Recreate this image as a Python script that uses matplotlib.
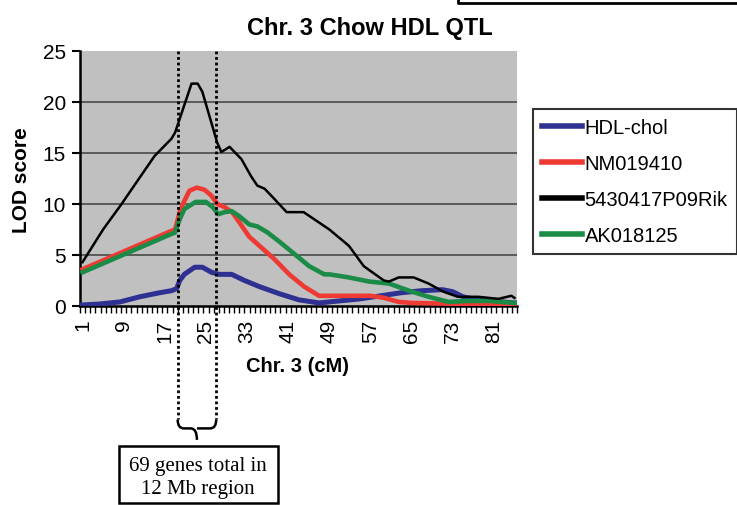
import matplotlib.pyplot as plt
from matplotlib.path import Path
from matplotlib.patches import PathPatch, Rectangle
import matplotlib.transforms as mtransforms

# values (cM position, LOD score)
cm_hdl = [1, 4.4, 8.3, 12.1, 16, 18.3, 19.3, 19.9, 20.8, 22.8, 24.3, 26.1, 27.6, 30, 32.5,
          35.4, 39.3, 43.1, 47, 51, 55, 59, 63, 67, 71, 73, 75, 79, 82.6, 85]
lod_hdl = [0.1, 0.2, 0.4, 0.9, 1.3, 1.5, 1.7, 2.5, 3.1, 3.8, 3.8, 3.3, 3.1, 3.1, 2.5,
           1.9, 1.2, 0.6, 0.3, 0.5, 0.7, 1.0, 1.3, 1.5, 1.6, 1.4, 0.9, 0.5, 0.4, 0.3]

cm_nm = [1, 18, 19, 19.9, 20.8, 21.8, 23.2, 24.7, 26.1, 27.2, 28.6, 30.1, 31.5, 33.4,
         35.4, 38.3, 41.2, 44.1, 47, 49, 57, 59.6, 62.5, 65, 75, 85]
lod_nm = [3.6, 7.3, 7.5, 9.2, 10.3, 11.3, 11.6, 11.4, 10.8, 10.0, 9.7, 9.2, 8.2, 6.8,
          5.9, 4.6, 3.1, 1.9, 1.0, 1.0, 1.0, 0.8, 0.4, 0.3, 0.2, 0.2]

cm_rik = [1, 5, 8.6, 12, 15, 18.3, 19, 22.2, 23.4, 24.3, 27.2, 28, 29.6, 31.9, 33.8, 35,
          36.4, 38.3, 40.7, 44, 49, 52.8, 55.7, 59.6, 60.6, 62.5, 65.4, 68.3, 71.2, 74,
          78, 81.9, 84.4, 85]
lod_rik = [4.3, 7.5, 10.0, 12.5, 14.7, 16.4, 17.0, 21.8, 21.8, 21.0, 16.0, 15.1, 15.6,
           14.4, 12.7, 11.8, 11.5, 10.5, 9.2, 9.2, 7.5, 5.9, 3.9, 2.5, 2.4, 2.8, 2.8,
           2.2, 1.4, 0.9, 0.9, 0.7, 1.0, 0.8]

cm_ak = [1, 18, 19, 19.9, 20.8, 23, 25, 26.3, 27.4, 28.6, 30, 31.5, 33.4, 35, 37, 39.3,
         42.2, 45.1, 48, 49, 52.8, 56.7, 60.6, 64.5, 68.3, 72.2, 76, 80, 85]
lod_ak = [3.3, 7.0, 7.2, 8.5, 9.5, 10.2, 10.2, 9.7, 9.0, 9.2, 9.3, 8.8, 8.0, 7.8, 7.2,
          6.3, 5.1, 3.9, 3.1, 3.1, 2.8, 2.4, 2.2, 1.5, 0.9, 0.4, 0.5, 0.5, 0.3]

tick_labels = [1, 9, 17, 25, 33, 41, 49, 57, 65, 73, 81]
n_markers = 85
qtl_region = [19.5, 27]

plt.rcParams['font.family'] = ['Liberation Sans', 'DejaVu Sans']

fig = plt.figure(figsize=(7.37, 5.06), dpi=100)
ax = fig.add_axes([0.1085, 0.3933, 0.593, 0.504])
ax.set_facecolor("#c0c0c0")

for y in [5, 10, 15, 20]:
    ax.axhline(y, color="#4a4a4a", lw=1.2, zorder=1)

ax.plot(cm_hdl, lod_hdl, color="#2e3192", lw=3.6, label="HDL-chol", zorder=3)
ax.plot(cm_nm, lod_nm, color="#ee3a33", lw=3.3, label="NM019410", zorder=3)
ax.plot(cm_rik, lod_rik, color="black", lw=1.8, label="5430417P09Rik", zorder=4)
ax.plot(cm_ak, lod_ak, color="#1b8c48", lw=3.3, label="AK018125", zorder=3)

ax.set_xlim(0.5, n_markers + 0.5)
ax.set_ylim(0, 25)
ax.set_yticks([0, 5, 10, 15, 20, 25])
ax.set_xticks(tick_labels)
ax.set_xticklabels([str(t) for t in tick_labels], rotation=90)
ax.set_xticks([i + 0.5 for i in range(0, n_markers + 1)], minor=True)
ax.tick_params(axis="x", which="major", length=0, labelsize=15, pad=9)
ax.tick_params(axis="x", which="minor", length=5, width=1, direction="out")
ax.tick_params(axis="y", length=6, width=1.5, labelsize=15, pad=4)
for s in ["top", "right"]:
    ax.spines[s].set_visible(False)
ax.spines["left"].set_linewidth(1.8)
ax.spines["bottom"].set_linewidth(1.8)

fig.text(22 / 737, 1 - 180 / 506, "LOD score", rotation=90, ha="center", va="center",
         fontsize=15, fontweight="bold")
fig.text(297 / 737, 1 - 366 / 506, "Chr. 3 (cM)", ha="center", va="center",
         fontsize=14.5, fontweight="bold")
fig.text(370 / 737, 1 - 29 / 506, "Chr. 3 Chow HDL QTL", ha="center", va="center",
         fontsize=17, fontweight="bold")

# dotted region lines going down to the brace
trans = mtransforms.blended_transform_factory(ax.transData, ax.transAxes)
for x in qtl_region:
    ax.plot([x, x], [1.0, -0.445], transform=trans, color="black", lw=2,
            ls=(0, (1, 1)), clip_on=False, zorder=5)

x0, x1 = qtl_region
xm = (x0 + x1) / 2
verts = [(x0, -0.445), (x0, -0.48), (x0 + 1.2, -0.48),
         (xm - 1.2, -0.48), (xm, -0.48), (xm, -0.525),
         (xm, -0.48), (xm + 1.2, -0.48),
         (x1 - 1.2, -0.48), (x1, -0.48), (x1, -0.445)]
codes = [Path.MOVETO, Path.CURVE3, Path.CURVE3,
         Path.LINETO, Path.CURVE3, Path.CURVE3,
         Path.MOVETO, Path.LINETO,
         Path.LINETO, Path.CURVE3, Path.CURVE3]
brace = PathPatch(Path(verts, codes), transform=trans, fill=False, lw=1.8,
                  clip_on=False)
ax.add_patch(brace)

fig.patches.append(Rectangle((0.161, 0.003), 0.216, 0.113, transform=fig.transFigure,
                             fill=False, lw=1.8, edgecolor="black"))
fig.text(0.269, 1 - 467 / 506, "69 genes total in", ha="center", va="center",
         fontsize=15, family="Liberation Serif")
fig.text(0.269, 1 - 490 / 506, "12 Mb region", ha="center", va="center",
         fontsize=15, family="Liberation Serif")

# border fragment at top right
fig.lines.append(plt.Line2D([0.622, 0.622, 1.0], [1.0, 0.992, 0.992],
                            transform=fig.transFigure, color="black", lw=2))

leg = fig.legend(loc="upper left", bbox_to_anchor=(0.723, 0.783), frameon=True,
                 fancybox=False, edgecolor="black", fontsize=14.5,
                 handlelength=2.0, handletextpad=0.12, labelspacing=0.85,
                 borderpad=0.45, borderaxespad=0)
leg.get_frame().set_linewidth(1.5)
for h in leg.get_lines():
    h.set_linewidth(4)

fig.savefig("out.png", dpi=100)
